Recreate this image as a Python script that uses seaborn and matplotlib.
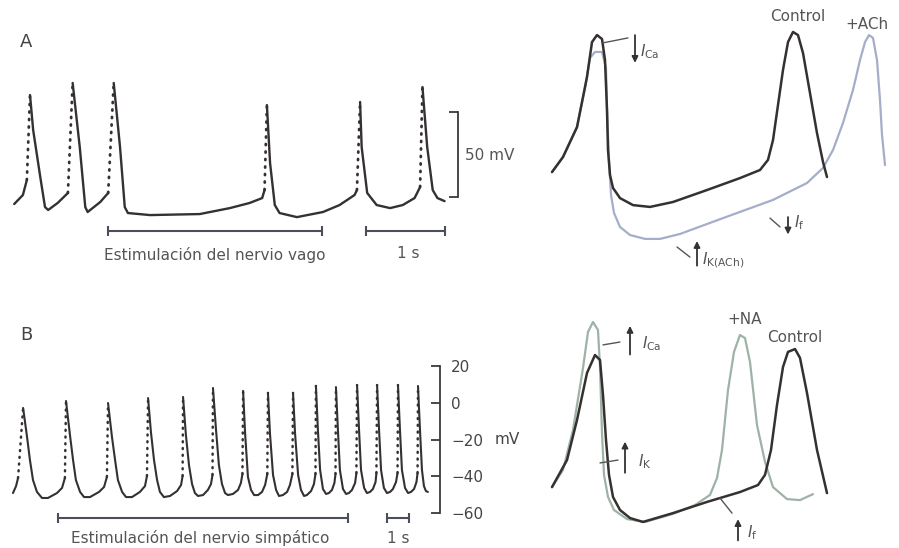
import matplotlib
matplotlib.use("Agg")
import matplotlib.pyplot as plt
import pandas as pd
import seaborn as sns

# ======================
# DATOS
# ======================
# A izquierda: segmentos continuos (tiempo s, mV); entre ellos va la fase de subida punteada
a_segments = [
    [(0.18, -64.1), (0.29, -58.8), (0.34, -50.0)],
    [(0.38, 0.0), (0.42, -20.6), (0.51, -48.2), (0.57, -65.9), (0.61, -67.6), (0.73, -63.5), (0.86, -57.6)],
    [(0.92, 7.1), (1.01, -30.6), (1.08, -65.9), (1.11, -68.8), (1.27, -62.9), (1.37, -57.6)],
    [(1.44, 7.1), (1.52, -30.6), (1.58, -65.9), (1.62, -69.4), (1.90, -70.6), (2.53, -70.0), (2.91, -66.5),
     (3.16, -63.5), (3.32, -60.6), (3.35, -55.9)],
    [(3.38, -5.9), (3.42, -40.0), (3.48, -64.7), (3.54, -69.4), (3.76, -71.8), (4.09, -68.8), (4.30, -64.7),
     (4.49, -58.8), (4.52, -55.9)],
    [(4.56, -4.1), (4.58, -30.6), (4.65, -57.6), (4.77, -64.7), (4.94, -66.5), (5.10, -64.7), (5.25, -60.6),
     (5.32, -54.1)],
    [(5.35, 4.7), (5.41, -30.6), (5.48, -55.9), (5.54, -60.6), (5.63, -62.4)],
]
a_stim = (1.37, 4.08)      # estimulación vagal (s)
a_one_s = (4.63, 5.63)     # barra de 1 s

# B izquierda
b_segments = [
    [(0.59, -49.2), (0.73, -45.4), (0.82, -41.0)],
    [(1.05, -2.7), (1.23, -18.6), (1.36, -31.1), (1.50, -42.1), (1.68, -48.6), (1.91, -51.9), (2.18, -51.9),
     (2.59, -49.2), (2.82, -46.4), (2.95, -41.0)],
    [(3.00, 1.1), (3.18, -17.5), (3.32, -31.1), (3.45, -42.1), (3.64, -48.6), (3.82, -51.4), (4.09, -51.4),
     (4.50, -48.6), (4.73, -45.9), (4.86, -40.4)],
    [(4.91, 0.0), (5.09, -18.6), (5.23, -31.1), (5.36, -42.1), (5.55, -48.6), (5.73, -51.4), (6.00, -51.4),
     (6.36, -48.6), (6.59, -45.4), (6.68, -39.9)],
    [(6.73, 2.7), (6.86, -15.8), (7.00, -31.1), (7.14, -42.1), (7.27, -48.6), (7.45, -51.4), (7.73, -50.8),
     (8.05, -48.1), (8.23, -44.8), (8.30, -39.9)],
    [(8.32, 3.3), (8.45, -17.5), (8.59, -33.9), (8.73, -44.3), (8.86, -49.2), (9.00, -50.8), (9.23, -50.3),
     (9.45, -47.5), (9.59, -44.3), (9.66, -39.3)],
    [(9.68, 8.2), (9.82, -14.8), (9.95, -33.9), (10.09, -44.3), (10.23, -49.2), (10.36, -50.3), (10.59, -49.7),
     (10.82, -47.5), (10.95, -43.7), (11.02, -38.8)],
    [(11.05, 6.6), (11.14, -16.4), (11.27, -40.4), (11.41, -47.5), (11.55, -50.3), (11.73, -50.3),
     (11.91, -48.6), (12.05, -44.8), (12.15, -38.8)],
    [(12.18, 5.5), (12.27, -16.4), (12.41, -39.3), (12.55, -47.5), (12.68, -50.8), (12.86, -50.3),
     (13.05, -48.6), (13.18, -44.8), (13.29, -38.8)],
    [(13.32, 5.5), (13.41, -16.4), (13.55, -39.3), (13.68, -47.5), (13.82, -50.8), (13.95, -50.3),
     (14.14, -48.1), (14.27, -44.3), (14.34, -38.8)],
    [(14.36, 9.3), (14.45, -14.8), (14.55, -36.6), (14.68, -47.0), (14.82, -49.7), (14.95, -49.2),
     (15.09, -47.5), (15.20, -43.7), (15.25, -38.8)],
    [(15.27, 8.7), (15.36, -14.8), (15.45, -36.6), (15.59, -47.0), (15.73, -49.7), (15.86, -49.2),
     (16.00, -47.5), (16.14, -43.7), (16.20, -38.3)],
    [(16.23, 9.8), (16.32, -14.8), (16.41, -36.6), (16.55, -46.4), (16.68, -49.2), (16.82, -48.6),
     (16.95, -47.0), (17.07, -43.2), (17.11, -38.3)],
    [(17.14, 9.8), (17.23, -14.8), (17.32, -36.6), (17.45, -46.4), (17.59, -49.2), (17.73, -48.6),
     (17.86, -47.0), (18.00, -43.2), (18.07, -38.3)],
    [(18.09, 9.8), (18.18, -14.8), (18.27, -36.6), (18.41, -46.4), (18.55, -49.2), (18.68, -48.6),
     (18.82, -47.0), (18.93, -43.2), (18.98, -38.3)],
    [(19.00, 9.3), (19.09, -14.8), (19.18, -36.6), (19.27, -45.4), (19.36, -48.1), (19.45, -48.6)],
]
b_stim = (2.64, 15.82)
b_one_s = (17.59, 18.59)
b_ticks = [-60, -40, -20, 0, 20]

# A derecha: potencial de acción control y con ACh (ms, mV)
ra_ctrl_t = [10, 65, 135, 185, 210, 235, 260, 275, 285, 290, 300, 315, 350, 415, 500, 615, 785, 950, 1050,
             1090, 1115, 1140, 1165, 1190, 1215, 1240, 1265, 1300, 1335, 1365, 1385]
ra_ctrl_v = [-38.5, -32.7, -21.2, -1.9, 11.5, 14.2, 12.7, 4.6, -14.6, -30.0, -39.6, -44.6, -48.5, -51.2,
             -51.9, -50.0, -45.4, -40.8, -37.7, -33.8, -26.2, -12.7, 0.8, 11.5, 15.4, 14.2, 7.3, -8.1,
             -23.5, -34.6, -40.4]
ra_ach_t = [10, 65, 135, 175, 200, 225, 260, 280, 285, 295, 305, 320, 350, 400, 475, 550, 650, 865, 1115,
            1285, 1365, 1415, 1465, 1515, 1550, 1575, 1595, 1615, 1635, 1650, 1660, 1675]
ra_ach_v = [-38.5, -32.7, -21.2, -6.2, 5.4, 7.7, 7.7, 1.5, -14.6, -33.8, -47.3, -54.2, -59.6, -62.7, -64.2,
            -64.2, -62.3, -56.2, -49.2, -42.7, -36.9, -30.0, -19.6, -6.9, 4.6, 11.5, 14.2, 13.1, 4.6,
            -10.8, -24.2, -35.8]

# B derecha: control y con noradrenalina
rb_ctrl_t = [10, 85, 135, 185, 225, 250, 265, 280, 295, 315, 350, 400, 465, 615, 785, 950, 1040, 1075,
             1105, 1135, 1165, 1190, 1225, 1250, 1285, 1335, 1385]
rb_ctrl_v = [-43.5, -33.1, -17.7, 0.4, 7.3, 5.4, -8.1, -25.4, -38.8, -47.3, -52.3, -55.4, -56.9, -53.5,
             -49.2, -45.4, -42.7, -38.8, -29.2, -11.9, 2.7, 8.5, 9.6, 6.2, -7.3, -29.2, -45.8]
rb_na_t = [10, 65, 115, 165, 190, 215, 240, 250, 260, 270, 290, 320, 385, 475, 615, 725, 800, 835, 860,
           890, 920, 950, 975, 1000, 1035, 1075, 1115, 1185, 1250, 1315]
rb_na_v = [-43.5, -36.9, -21.5, 2.3, 16.2, 20.0, 16.9, 2.7, -22.7, -38.8, -47.3, -52.3, -55.8, -56.9,
           -53.8, -50.4, -46.5, -40.0, -29.2, -6.2, 8.5, 15.0, 13.8, 4.6, -19.6, -33.8, -43.5, -48.1,
           -48.5, -46.2]

INK = "#353130"
TXT = "#555555"
ACH = "#a4aec9"
NA = "#9fb2a6"

sns.set_style("white")
plt.rcParams["font.family"] = ["DejaVu Sans"]
plt.rcParams["mathtext.fontset"] = "dejavusans"


def trace_frames(segments):
    rows, up = [], []
    for k, seg in enumerate(segments):
        for t, v in seg:
            rows.append((k, t, v))
        if k < len(segments) - 1:
            up.append((k, seg[-1][0], seg[-1][1]))
            up.append((k, segments[k + 1][0][0], segments[k + 1][0][1]))
    cols = ["seg", "t", "v"]
    return pd.DataFrame(rows, columns=cols), pd.DataFrame(up, columns=cols)


def draw_trace(ax, segments, lw):
    solid, dotted = trace_frames(segments)
    sns.lineplot(data=solid, x="t", y="v", units="seg", estimator=None, sort=False, color=INK,
                 linewidth=lw, solid_joinstyle="round", solid_capstyle="round", ax=ax, legend=False)
    sns.lineplot(data=dotted, x="t", y="v", units="seg", estimator=None, sort=False, color=INK,
                 linewidth=lw + 0.3, linestyle=(0, (0.4, 2.3)), dash_capstyle="round", ax=ax,
                 legend=False)


def time_bar(ax, span, y, label, label_y, label_x=None):
    c = (span[0] + span[1]) / 2
    ax.errorbar([c], [y], xerr=[(span[1] - span[0]) / 2], color="#4a4f5a", lw=1.5, capsize=3.5,
                capthick=1.5, fmt="none")
    ax.text(c if label_x is None else label_x, label_y, label, ha="center", va="center",
            color=TXT, fontsize=11)


def clean(ax):
    ax.set_xlabel("")
    ax.set_ylabel("")
    ax.set_xticks([])
    for s in ["left", "top", "bottom", "right"]:
        ax.spines[s].set_visible(False)


fig = plt.figure(figsize=(8.99, 5.48), dpi=100)
W, H = 899, 548


def px_axes(x0, x1, y0, y1):
    return fig.add_axes([x0 / W, 1 - y1 / H, (x1 - x0) / W, (y1 - y0) / H])


# ---- A izquierda ----
ax = px_axes(0, 458, 60, 270)
draw_trace(ax, a_segments, 1.7)
time_bar(ax, a_stim, -80, "Estimulación del nervio vago", -94)
time_bar(ax, a_one_s, -80, "1 s", -93, label_x=5.17)
clean(ax)
ax.spines["right"].set_visible(True)
ax.spines["right"].set_bounds(-60, -10)
ax.spines["right"].set_color("#3a3a3a")
ax.spines["right"].set_linewidth(1.3)
ax.yaxis.tick_right()
ax.set_yticks([-60, -10])
ax.set_yticklabels([])
ax.tick_params(axis="y", direction="in", length=6.5, width=1.3, color="#3a3a3a")
ax.text(5.886, -35.3, "50 mV", va="center", ha="left", color=TXT, fontsize=11)
ax.set_xlim(0, 5.8)
ax.set_ylim(-102.9, 20.6)

# ---- B izquierda ----
ax = px_axes(0, 440, 355, 548)
draw_trace(ax, b_segments, 1.5)
time_bar(ax, b_stim, -62.8, "Estimulación del nervio simpático", -73.8, label_x=9.09)
time_bar(ax, b_one_s, -62.8, "1 s", -73.8)
clean(ax)
ax.spines["right"].set_visible(True)
ax.spines["right"].set_bounds(-60, 20)
ax.spines["right"].set_color("#3a3a3a")
ax.spines["right"].set_linewidth(1.3)
ax.yaxis.tick_right()
ax.set_yticks(b_ticks)
ax.tick_params(axis="y", direction="in", length=6.5, width=1.3, color="#3a3a3a",
               labelcolor="#444444", labelsize=11, pad=8)
ax.text(22.5, -20, "mV", va="center", ha="left", color="#444444", fontsize=11)
ax.set_xlim(0, 20)
ax.set_ylim(-79.23, 26.23)


def arrow(ax, t, v_tail, v_head):
    ax.annotate("", xy=(t, v_head), xytext=(t, v_tail),
                arrowprops=dict(arrowstyle="-|>", color="#333333", lw=1.3, mutation_scale=9,
                                shrinkA=0, shrinkB=0))


def leader(ax, t0, v0, t1, v1):
    ax.plot([t0, t1], [v0, v1], color="#555555", lw=1.0)


# ---- A derecha ----
ax = px_axes(540, 899, 0, 290)
sns.lineplot(x=ra_ach_t, y=ra_ach_v, sort=False, estimator=None, color=ACH, linewidth=1.6, ax=ax)
sns.lineplot(x=ra_ctrl_t, y=ra_ctrl_v, sort=False, estimator=None, color=INK, linewidth=1.8, ax=ax)
leader(ax, 265, 11.2, 390, 13.1)
arrow(ax, 425, 14.2, 3.5)
ax.text(448, 7.7, r"$I_{\mathrm{Ca}}$", color=TXT, fontsize=11, va="center")
leader(ax, 1100, -56.2, 1150, -59.6)
arrow(ax, 1190, -55.8, -62.5)
ax.text(1222, -58.1, r"$I_{\mathrm{f}}$", color=TXT, fontsize=11, va="center")
leader(ax, 635, -67.3, 700, -71.2)
arrow(ax, 735, -74.5, -65.0)
ax.text(762, -72.3, r"$I_{\mathrm{K(ACh)}}$", color=TXT, fontsize=11, va="center")
ax.text(1240, 21.2, "Control", color=TXT, fontsize=11, ha="center", va="center")
ax.text(1585, 18.1, "+ACh", color=TXT, fontsize=11, ha="center", va="center")
clean(ax)
ax.set_yticks([])
ax.set_xlim(-50, 1745)
ax.set_ylim(-83.85, 27.69)

# ---- B derecha ----
ax = px_axes(540, 899, 290, 548)
sns.lineplot(x=rb_na_t, y=rb_na_v, sort=False, estimator=None, color=NA, linewidth=1.6, ax=ax)
sns.lineplot(x=rb_ctrl_t, y=rb_ctrl_v, sort=False, estimator=None, color=INK, linewidth=1.8, ax=ax)
leader(ax, 265, 11.2, 350, 12.3)
arrow(ax, 400, 7.5, 18.5)
ax.text(460, 11.5, r"$I_{\mathrm{Ca}}$", color=TXT, fontsize=11, va="center")
leader(ax, 250, -34.2, 340, -33.1)
arrow(ax, 375, -38.0, -26.0)
ax.text(440, -33.8, r"$I_{\mathrm{K}}$", color=TXT, fontsize=11, va="center")
leader(ax, 850, -47.7, 910, -53.5)
arrow(ax, 940, -64.0, -55.8)
ax.text(985, -61.2, r"$I_{\mathrm{f}}$", color=TXT, fontsize=11, va="center")
ax.text(975, 20.8, "+NA", color=TXT, fontsize=11, ha="center", va="center")
ax.text(1225, 14.2, "Control", color=TXT, fontsize=11, ha="center", va="center")
clean(ax)
ax.set_yticks([])
ax.set_xlim(-50, 1745)
ax.set_ylim(-66.92, 32.31)

fig.text(20 / W, 1 - 42 / H, "A", fontsize=13, color="#444444", va="center", ha="left")
fig.text(20 / W, 1 - 335 / H, "B", fontsize=13, color="#444444", va="center", ha="left")

fig.savefig("out.png", dpi=100)
